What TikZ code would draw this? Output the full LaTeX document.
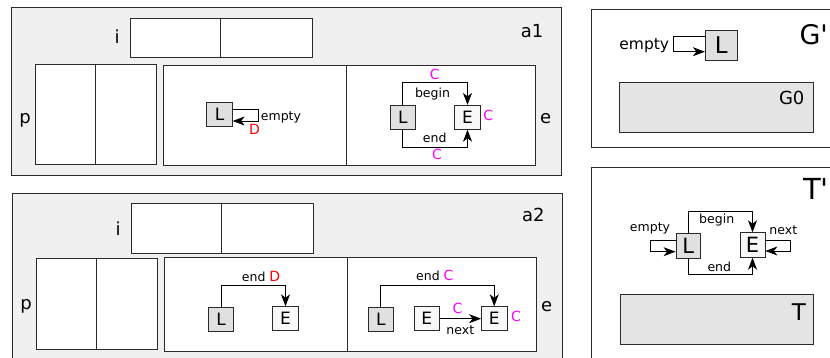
\documentclass[tikz,border=0pt]{standalone}
\usepackage{fontspec}
\setmainfont{DejaVu Sans}[Ligatures=TeXOff]
\usetikzlibrary{arrows.meta}
\definecolor{panelbg}{HTML}{F0F0F0}
\definecolor{listfill}{HTML}{E0E0E0}
\definecolor{elemfill}{HTML}{F8F8F8}
\definecolor{graybox}{HTML}{E4E4E4}
\definecolor{edgecol}{HTML}{2A2A2A}
\definecolor{cmark}{HTML}{FF00FF}
\definecolor{dmark}{HTML}{FF0000}

\begin{document}
\begin{tikzpicture}[x=1pt,y=-1pt,
  panel/.style={draw=edgecol, line width=0.9pt, fill=panelbg},
  wpanel/.style={draw=edgecol, line width=0.9pt, fill=white},
  cell/.style={draw=edgecol, line width=0.8pt, fill=white},
  divider/.style={draw=edgecol, line width=0.8pt},
  lnode/.style={draw=edgecol, line width=0.8pt, fill=listfill, inner sep=0pt,
    minimum width=25.5pt, minimum height=24pt, font=\fontsize{17}{17}\selectfont},
  enode/.style={lnode, fill=elemfill},
  small/.style={inner sep=0pt, anchor=base, font=\fontsize{12.5}{13}\selectfont},
  flaglbl/.style={small, font=\fontsize{14}{14}\selectfont},
  tag/.style={inner sep=0pt, anchor=base, font=\fontsize{18}{18}\selectfont},
  link/.style={draw=black, line width=0.9pt,
    -{Stealth[length=12pt,width=9pt,inset=3.5pt]}},
]
\useasboundingbox (0,0) rectangle (830,358);
\clip (0,0) rectangle (830,358);

% ---------- panel a1 ----------
\draw[panel] (11,7.5) rectangle (561,175);
\draw[cell] (130,18) rectangle (312.3,57.3);
\draw[divider] (220,18) -- (220,57.3);
\draw[cell] (35.7,64.7) rectangle (156.7,164);
\draw[divider] (95.7,64.7) -- (95.7,164);
\draw[cell] (163,65) rectangle (346.7,165);
\draw[cell] (346.7,65) rectangle (535,165);
\node[tag] (a1i) at (117,44) {i};
\node[tag] (a1p) at (25,124) {p};
\node[tag] (a1e) at (545.7,124) {e};
\node[tag] (a1t) at (532,38) {a1};

\node[lnode] (aL) at (219.5,114.2) {L};
\draw[link] ([yshift=5.2pt]aL.east) -- ++(26,0) |- ([yshift=-6.8pt]aL.east);
\node[small, anchor=base west] (aEmpty) at (260.7,121) {empty};
\node[flaglbl, text=dmark] (aD) at (254.5,135) {D};

\node[lnode] (bL) at (402.8,117.8) {L};
\node[enode] (bE) at (467.5,117.3) {E};
\draw[link] (bL.north) -- ++(0,-22.5) -| (bE.north);
\draw[link] (bL.south) -- ++(0,17.5) -| (bE.south);
\node[small] (bBegin) at (432.5,97.3) {begin};
\node[small] (bEnd) at (434.7,142.7) {end};
\node[flaglbl, text=cmark] (bC1) at (434.7,79.3) {C};
\node[flaglbl, text=cmark] (bC2) at (437,160) {C};
\node[flaglbl, text=cmark] (bC3) at (488.3,121) {C};

% ---------- panel a2 ----------
\draw[panel] (12,193.3) rectangle (562.7,372);
\draw[cell] (131.7,203.3) rectangle (313.3,253);
\draw[divider] (221,203.3) -- (221,253);
\draw[cell] (36.7,258.3) rectangle (157.7,349.3);
\draw[divider] (96.3,258.3) -- (96.3,349.3);
\draw[cell] (164.3,257.7) rectangle (347.7,351);
\draw[cell] (347.7,257.7) rectangle (536,351);
\node[tag] (a2i) at (118,236) {i};
\node[tag] (a2p) at (26,309) {p};
\node[tag] (a2e) at (546.7,311) {e};
\node[tag] (a2t) at (533.3,222) {a2};

\node[lnode] (cL) at (221,319.5) {L};
\node[enode] (cE) at (285.5,318.7) {E};
\draw[link] (cL.north) -- ++(0,-21.8) -| (cE.north);
\node[small, anchor=base west] (cEnd) at (241.7,281)
  {end {\fontsize{14}{14}\selectfont\textcolor{dmark}{D}}};

\node[lnode] (dL) at (380.8,319.5) {L};
\node[enode] (dE1) at (426.8,318.7) {E};
\node[enode] (dE2) at (494.2,318.7) {E};
\draw[link] (dL.north) -- ++(0,-21.5) -| (dE2.north);
\draw[link] (dE1.east) -- (dE2.west);
\node[small, anchor=base west] (dEnd) at (416,280)
  {end {\fontsize{14}{14}\selectfont\textcolor{cmark}{C}}};
\node[flaglbl, text=cmark] (dC1) at (457.5,313.3) {C};
\node[small] (dNext) at (460.3,334) {next};
\node[flaglbl, text=cmark] (dC2) at (516,321.7) {C};

% ---------- panel G' ----------
\draw[wpanel] (591,9) rectangle (845,147.3);
\node[tag, anchor=base west, font=\fontsize{27}{27}\selectfont] (gT) at (799.3,45) {G'};
\node[lnode, minimum width=32pt, minimum height=30pt,
  font=\fontsize{23}{23}\selectfont] (gL) at (721.3,45) {L};
\draw[link] ([yshift=8.3pt]gL.west) -- ++(-31,0) |- ([yshift=-6.7pt]gL.west);
\node[small, font=\fontsize{15.5}{16}\selectfont] (gEmpty) at (644.3,50) {empty};
\draw[draw=edgecol, line width=0.8pt, fill=graybox] (619.3,82.3) rectangle (813.3,132.3);
\node[tag] (gG0) at (791.7,105) {G0};

% ---------- panel T' ----------
\draw[wpanel] (591,167.3) rectangle (845,372);
\node[tag, anchor=base west, font=\fontsize{29}{29}\selectfont] (tT) at (803,200) {T'};
\node[lnode, minimum width=24.7pt, minimum height=25pt,
  font=\fontsize{21}{21}\selectfont] (tL) at (688.3,245.8) {L};
\node[enode, minimum width=25pt, minimum height=24.6pt,
  font=\fontsize{21}{21}\selectfont] (tE) at (752.5,245) {E};
\draw[link] (tL.north) -- ++(0,-21) -| (tE.north);
\draw[link] (tL.south) -- ++(0,15.7) -| (tE.south);
\draw[link] ([yshift=5.1pt]tL.west) -- ++(-25,0) |- ([yshift=-5.9pt]tL.west);
\draw[link] ([yshift=5pt]tE.east) -- ++(25,0) |- ([yshift=-6pt]tE.east);
\node[small] (tEmpty) at (650,232) {empty};
\node[small] (tBegin) at (716.7,224) {begin};
\node[small] (tEnd) at (719.3,271) {end};
\node[small] (tNext) at (783.3,235) {next};
\draw[draw=edgecol, line width=0.8pt, fill=graybox] (620,294) rectangle (813.3,344.3);
\node[tag, font=\fontsize{23}{23}\selectfont] (tTree) at (799,320) {T};
\end{tikzpicture}
\end{document}
